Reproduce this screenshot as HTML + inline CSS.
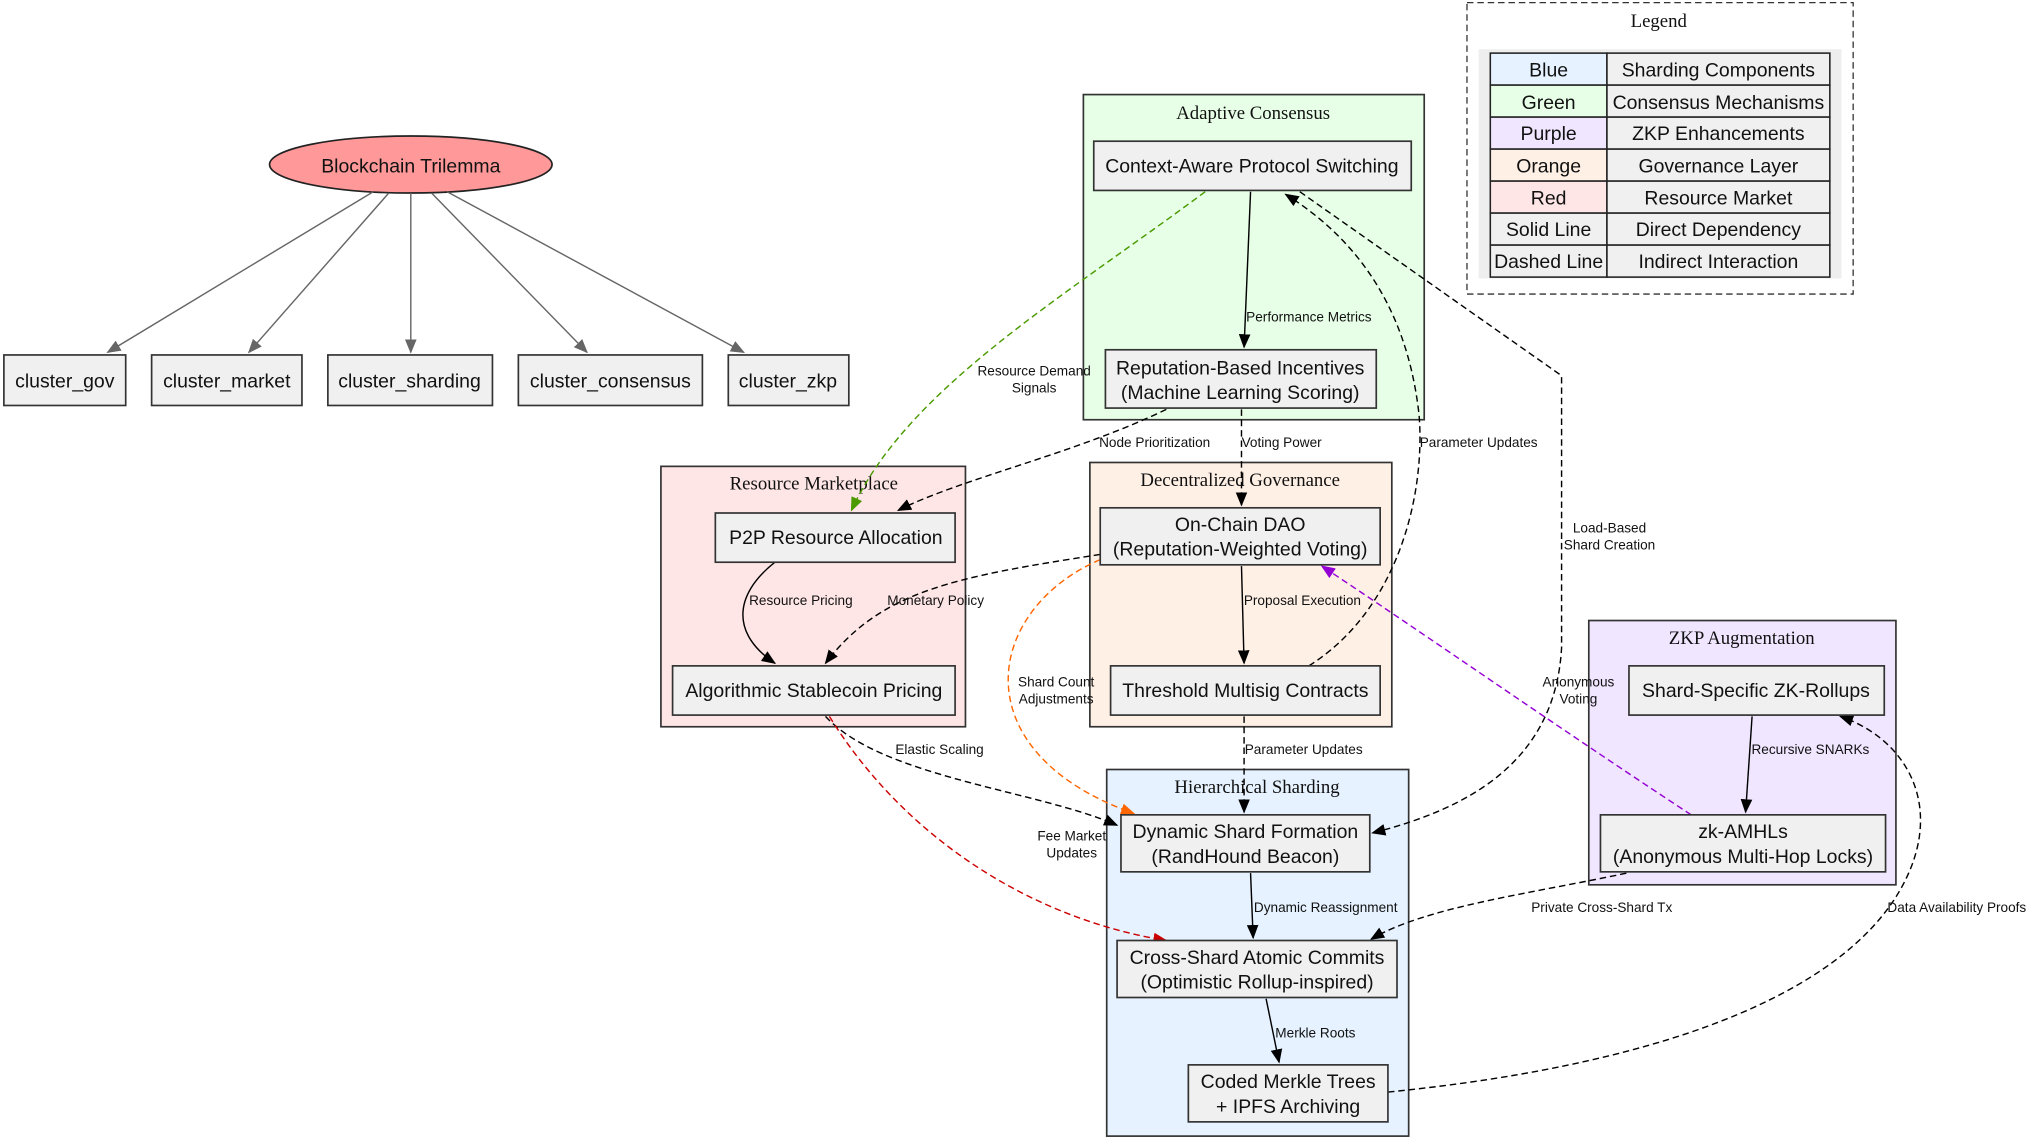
<!DOCTYPE html>
<html><head><meta charset="utf-8"><style>
html,body{margin:0;padding:0;background:#fff;}
svg{display:block;}
.n{fill:#f0f0f0;stroke:#333;stroke-width:1.3;}
.t{font-family:"Liberation Sans",sans-serif;font-size:15px;fill:#111;text-anchor:middle;}
.c{font-family:"Liberation Serif",serif;font-size:14.5px;fill:#111;text-anchor:middle;}
.l{font-family:"Liberation Sans",sans-serif;font-size:10.5px;fill:#111;text-anchor:middle;}
.e{fill:none;stroke:#000;stroke-width:1.1;}
.d{stroke-dasharray:5,3;}
</style></head><body>
<svg width="2032" height="1140" viewBox="0 0 1568 880" preserveAspectRatio="none" xmlns="http://www.w3.org/2000/svg">
<defs>
<marker id="a" markerWidth="11" markerHeight="9" refX="10" refY="4.5" orient="auto" markerUnits="userSpaceOnUse"><path d="M0,0L11,4.5L0,9z" fill="#000"/></marker>
<marker id="g" markerWidth="11" markerHeight="9" refX="10" refY="4.5" orient="auto" markerUnits="userSpaceOnUse"><path d="M0,0L11,4.5L0,9z" fill="#666"/></marker>
<marker id="gr" markerWidth="11" markerHeight="9" refX="10" refY="4.5" orient="auto" markerUnits="userSpaceOnUse"><path d="M0,0L11,4.5L0,9z" fill="#4a9a00"/></marker>
<marker id="or" markerWidth="11" markerHeight="9" refX="10" refY="4.5" orient="auto" markerUnits="userSpaceOnUse"><path d="M0,0L11,4.5L0,9z" fill="#ff6600"/></marker>
<marker id="pu" markerWidth="11" markerHeight="9" refX="10" refY="4.5" orient="auto" markerUnits="userSpaceOnUse"><path d="M0,0L11,4.5L0,9z" fill="#9400d3"/></marker>
<marker id="re" markerWidth="11" markerHeight="9" refX="10" refY="4.5" orient="auto" markerUnits="userSpaceOnUse"><path d="M0,0L11,4.5L0,9z" fill="#cc0000"/></marker>
</defs>

<rect x="836" y="73" width="263" height="251" fill="#e6ffe6" stroke="#333" stroke-width="1.3"/>
<text class="c" x="967" y="92">Adaptive Consensus</text>
<rect x="510" y="360" width="235" height="201" fill="#ffe6e6" stroke="#333" stroke-width="1.3"/>
<text class="c" x="628" y="378">Resource Marketplace</text>
<rect x="841" y="357" width="233" height="204" fill="#fff0e6" stroke="#333" stroke-width="1.3"/>
<text class="c" x="957" y="375">Decentralized Governance</text>
<rect x="1226" y="479" width="237" height="204" fill="#f0e6ff" stroke="#333" stroke-width="1.3"/>
<text class="c" x="1344" y="497">ZKP Augmentation</text>
<rect x="854" y="594" width="233" height="283" fill="#e6f2ff" stroke="#333" stroke-width="1.3"/>
<text class="c" x="970" y="612">Hierarchical Sharding</text>

<rect x="1132" y="2" width="298" height="225" fill="#fff" stroke="#333" stroke-dasharray="5,3"/>
<text class="c" x="1280" y="21">Legend</text>
<rect x="1141" y="38" width="280" height="177" fill="#eee"/>
<g stroke="#222" stroke-width="1.2">
<rect x="1150" y="41" width="90" height="24.7" fill="#e6f2ff"/><rect x="1240" y="41" width="172" height="24.7" fill="#f0f0f0"/>
<rect x="1150" y="65.7" width="90" height="24.7" fill="#e6ffe6"/><rect x="1240" y="65.7" width="172" height="24.7" fill="#f0f0f0"/>
<rect x="1150" y="90.4" width="90" height="24.7" fill="#f0e6ff"/><rect x="1240" y="90.4" width="172" height="24.7" fill="#f0f0f0"/>
<rect x="1150" y="115.1" width="90" height="24.7" fill="#fff0e6"/><rect x="1240" y="115.1" width="172" height="24.7" fill="#f0f0f0"/>
<rect x="1150" y="139.8" width="90" height="24.7" fill="#ffe6e6"/><rect x="1240" y="139.8" width="172" height="24.7" fill="#f0f0f0"/>
<rect x="1150" y="164.5" width="90" height="24.7" fill="#f0f0f0"/><rect x="1240" y="164.5" width="172" height="24.7" fill="#f0f0f0"/>
<rect x="1150" y="189.2" width="90" height="24.7" fill="#f0f0f0"/><rect x="1240" y="189.2" width="172" height="24.7" fill="#f0f0f0"/>
</g>
<text class="t" x="1195" y="59">Blue</text><text class="t" x="1326" y="59">Sharding Components</text>
<text class="t" x="1195" y="84">Green</text><text class="t" x="1326" y="84">Consensus Mechanisms</text>
<text class="t" x="1195" y="108">Purple</text><text class="t" x="1326" y="108">ZKP Enhancements</text>
<text class="t" x="1195" y="133">Orange</text><text class="t" x="1326" y="133">Governance Layer</text>
<text class="t" x="1195" y="158">Red</text><text class="t" x="1326" y="158">Resource Market</text>
<text class="t" x="1195" y="182">Solid Line</text><text class="t" x="1326" y="182">Direct Dependency</text>
<text class="t" x="1195" y="207">Dashed Line</text><text class="t" x="1326" y="207">Indirect Interaction</text>

<ellipse cx="317" cy="127" rx="109" ry="22" fill="#ff9999" stroke="#222" stroke-width="1.3"/>
<text class="t" x="317" y="133">Blockchain Trilemma</text>
<g stroke="#666" stroke-width="1.1" fill="none">
<path d="M288,148L83,272" marker-end="url(#g)"/>
<path d="M300,149L192,272" marker-end="url(#g)"/>
<path d="M317,149L317,272" marker-end="url(#g)"/>
<path d="M333,149L453,272" marker-end="url(#g)"/>
<path d="M345,148L574,272" marker-end="url(#g)"/>
</g>
<rect class="n" x="3" y="274" width="94" height="39"/><text class="t" x="50" y="299">cluster_gov</text>
<rect class="n" x="117" y="274" width="116" height="39"/><text class="t" x="175" y="299">cluster_market</text>
<rect class="n" x="253" y="274" width="127" height="39"/><text class="t" x="316" y="299">cluster_sharding</text>
<rect class="n" x="400" y="274" width="142" height="39"/><text class="t" x="471" y="299">cluster_consensus</text>
<rect class="n" x="562" y="274" width="93" height="39"/><text class="t" x="608" y="299">cluster_zkp</text>

<path class="e" d="M965,148L960,268" marker-end="url(#a)"/>
<text class="l" x="1010" y="248">Performance Metrics</text>
<path class="e d" style="stroke:#4a9a00" d="M930,148C820,230 700,300 657,394" marker-end="url(#gr)"/>
<text class="l" x="798" y="290">Resource Demand</text><text class="l" x="798" y="303">Signals</text>
<path class="e d" d="M900,316C830,350 740,370 693,394" marker-end="url(#a)"/>
<text class="l" x="891" y="345">Node Prioritization</text>
<path class="e d" d="M958,316L958,390" marker-end="url(#a)"/>
<text class="l" x="989" y="345">Voting Power</text>
<path class="e d" d="M1010,514C1080,470 1100,380 1095,320C1085,230 1040,180 992,150" marker-end="url(#a)"/>
<text class="l" x="1141" y="345">Parameter Updates</text>
<path class="e d" d="M1003,148L1205,290L1205,500C1200,590 1130,625 1059,643" marker-end="url(#a)"/>
<text class="l" x="1242" y="411">Load-Based</text><text class="l" x="1242" y="424">Shard Creation</text>
<path class="e" d="M598,434C565,460 565,490 598,512" marker-end="url(#a)"/>
<text class="l" x="618" y="467">Resource Pricing</text>
<path class="e d" d="M849,428C740,445 680,455 637,512" marker-end="url(#a)"/>
<text class="l" x="722" y="467">Monetary Policy</text>
<path class="e" d="M958,437L960,512" marker-end="url(#a)"/>
<text class="l" x="1005" y="467">Proposal Execution</text>
<path class="e d" style="stroke:#ff6600" d="M849,432C760,470 740,580 875,628" marker-end="url(#or)"/>
<text class="l" x="815" y="530">Shard Count</text><text class="l" x="815" y="543">Adjustments</text>
<path class="e d" style="stroke:#9400d3" d="M1305,629C1200,560 1100,490 1020,437" marker-end="url(#pu)"/>
<text class="l" x="1218" y="530">Anonymous</text><text class="l" x="1218" y="543">Voting</text>
<path class="e d" d="M637,553C680,600 800,610 862,637" marker-end="url(#a)"/>
<text class="l" x="725" y="582">Elastic Scaling</text>
<path class="e d" style="stroke:#cc0000" d="M640,553C700,650 800,710 900,726" marker-end="url(#re)"/>
<text class="l" x="827" y="649">Fee Market</text><text class="l" x="827" y="662">Updates</text>
<path class="e d" d="M960,553L960,627" marker-end="url(#a)"/>
<text class="l" x="1006" y="582">Parameter Updates</text>
<path class="e" d="M1352,553L1347,627" marker-end="url(#a)"/>
<text class="l" x="1397" y="582">Recursive SNARKs</text>
<path class="e" d="M965,674L967,724" marker-end="url(#a)"/>
<text class="l" x="1023" y="704">Dynamic Reassignment</text>
<path class="e d" d="M1255,674C1180,690 1100,700 1058,725" marker-end="url(#a)"/>
<text class="l" x="1236" y="704">Private Cross-Shard Tx</text>
<path class="e" d="M977,771L987,820" marker-end="url(#a)"/>
<text class="l" x="1015" y="801">Merkle Roots</text>
<path class="e d" d="M1071,843C1300,820 1430,760 1470,680C1500,620 1470,570 1420,553" marker-end="url(#a)"/>
<text class="l" x="1510" y="704">Data Availability Proofs</text>

<rect class="n" x="844" y="109" width="245" height="38"/><text class="t" x="966" y="133">Context-Aware Protocol Switching</text>
<rect class="n" x="853" y="270" width="209" height="45"/><text class="t" x="957" y="289">Reputation-Based Incentives</text><text class="t" x="957" y="308">(Machine Learning Scoring)</text>
<rect class="n" x="552" y="396" width="185" height="38"/><text class="t" x="645" y="420">P2P Resource Allocation</text>
<rect class="n" x="519" y="514" width="218" height="38"/><text class="t" x="628" y="538">Algorithmic Stablecoin Pricing</text>
<rect class="n" x="849" y="392" width="216" height="44"/><text class="t" x="957" y="410">On-Chain DAO</text><text class="t" x="957" y="429">(Reputation-Weighted Voting)</text>
<rect class="n" x="857" y="514" width="208" height="38"/><text class="t" x="961" y="538">Threshold Multisig Contracts</text>
<rect class="n" x="1257" y="514" width="197" height="38"/><text class="t" x="1355" y="538">Shard-Specific ZK-Rollups</text>
<rect class="n" x="1235" y="629" width="220" height="44"/><text class="t" x="1345" y="647">zk-AMHLs</text><text class="t" x="1345" y="666">(Anonymous Multi-Hop Locks)</text>
<rect class="n" x="865" y="629" width="192" height="44"/><text class="t" x="961" y="647">Dynamic Shard Formation</text><text class="t" x="961" y="666">(RandHound Beacon)</text>
<rect class="n" x="862" y="726" width="216" height="44"/><text class="t" x="970" y="744">Cross-Shard Atomic Commits</text><text class="t" x="970" y="763">(Optimistic Rollup-inspired)</text>
<rect class="n" x="917" y="822" width="154" height="44"/><text class="t" x="994" y="840">Coded Merkle Trees</text><text class="t" x="994" y="859">+ IPFS Archiving</text>
</svg>
</body></html>
